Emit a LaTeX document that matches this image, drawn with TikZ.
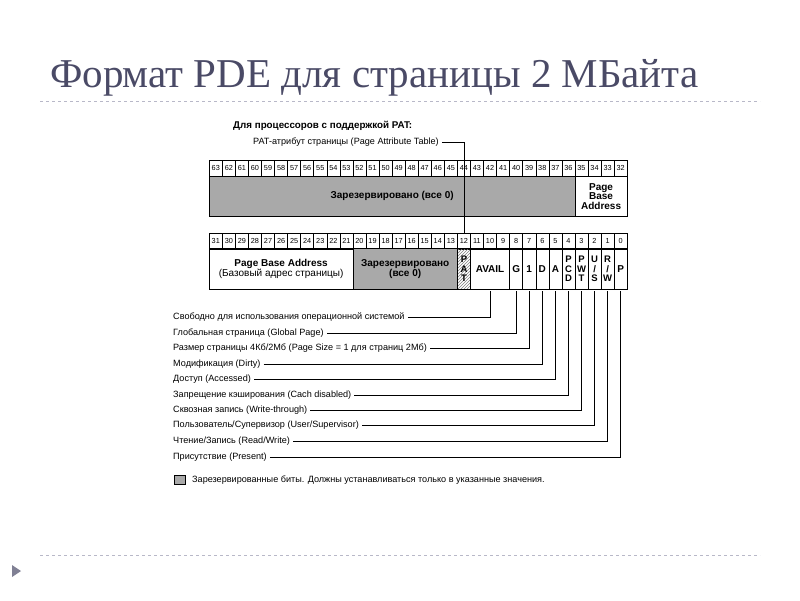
\documentclass[tikz,border=0pt]{standalone}
\usepackage{fontspec}
\setmainfont{Liberation Sans}
\newfontfamily\titlefont{Liberation Serif}
\usetikzlibrary{patterns}
\definecolor{titlec}{HTML}{4A4A66}
\definecolor{resgray}{HTML}{A9A9A9}
\definecolor{rulec}{HTML}{B8B8C8}
\begin{document}
\begin{tikzpicture}[x=1pt,y=-1pt,
  numcell/.style={draw,line width=0.5pt,minimum width=13.06pt,minimum height=16pt,inner sep=0pt,anchor=north west,font=\fontsize{7.3}{7.3}\selectfont},
  fld/.style={draw,line width=0.6pt,minimum height=41pt,inner sep=0pt,anchor=north west,align=center,font=\fontsize{10}{9.5}\selectfont\bfseries},
  stk/.style={font=\fontsize{9.5}{9.6}\selectfont\bfseries},
  lab/.style={anchor=west,inner sep=0pt,font=\fontsize{9.1}{9}\selectfont},
  lead/.style={line width=0.6pt}]
\useasboundingbox (0,0) rectangle (800,600);
\def\W{13.06}
% title
\node[anchor=base west,inner sep=0pt,text=titlec,font=\titlefont\fontsize{41}{41}\selectfont] (title) at (50,87) {Формат PDE для страницы 2 МБайта};
\draw[rulec,dashed,line width=0.6pt] (40,101) -- (760,101);
\draw[rulec,dashed,line width=0.6pt] (40,555) -- (760,555);
\fill[titlec!70] (12,565) -- (21,571) -- (12,577) -- cycle;
% header
\node[lab,font=\fontsize{9.8}{9}\selectfont\bfseries] (hdr) at (233,126) {Для процессоров с поддержкой PAT:};
\node[lab] (patlab) at (253,142) {PAT-атрибут страницы (Page Attribute Table)};
% register numbers
\foreach \b in {0,...,31}{
  \pgfmathtruncatemacro\n{63-\b}
  \node[numcell] (t\n) at ({209+\b*\W},160) {\n};
  \pgfmathtruncatemacro\m{31-\b}
  \node[numcell] (b\m) at ({209+\b*\W},233) {\m};
}
\node[fld,fill=resgray,minimum width={28*\W pt},minimum height=40pt] (tres) at (209,176) {Зарезервировано (все 0)};
\node[fld,minimum width={4*\W pt},minimum height=40pt] (tpba) at ({209+28*\W},176) {Page\\Base\\Address};
% bottom register fields
\node[fld,minimum width={11*\W pt}] (pba) at (209,248) {Page Base Address\\\mdseries(Базовый адрес страницы)};
\node[fld,fill=resgray,minimum width={8*\W pt}] (bres) at ({209+11*\W},248) {Зарезервировано\\(все 0)};
\node[fld,pattern=north east lines,pattern color=gray,minimum width={\W pt}] (pat) at ({209+19*\W},248) {};
\node[fld,stk,minimum width={\W pt},draw=none] (patt) at ({209+19*\W},248) {P\\A\\T};
\node[fld,minimum width={3*\W pt}] (avail) at ({209+20*\W},248) {AVAIL};
\node[fld,minimum width={\W pt}] (g) at ({209+23*\W},248) {G};
\node[fld,minimum width={\W pt}] (ps) at ({209+24*\W},248) {1};
\node[fld,minimum width={\W pt}] (d) at ({209+25*\W},248) {D};
\node[fld,minimum width={\W pt}] (a) at ({209+26*\W},248) {A};
\node[fld,stk,minimum width={\W pt}] (pcd) at ({209+27*\W},248) {P\\C\\D};
\node[fld,stk,minimum width={\W pt}] (pwt) at ({209+28*\W},248) {P\\W\\T};
\node[fld,stk,minimum width={\W pt}] (us) at ({209+29*\W},248) {U\\/\\S};
\node[fld,stk,minimum width={\W pt}] (rw) at ({209+30*\W},248) {R\\/\\W};
\node[fld,minimum width={\W pt}] (p) at ({209+31*\W},248) {P};
% PAT leader
\draw[lead] ([xshift=3pt]patlab.east) -| (b12.north);
% labels and leaders
\foreach \t/\f/\y in {
 {Свободно для использования операционной системой}/avail/317,
 {Глобальная страница (Global Page)}/g/333,
 {Размер страницы 4Кб/2Мб (Page Size = 1 для страниц 2Мб)}/ps/348,
 {Модификация (Dirty)}/d/364,
 {Доступ (Accessed)}/a/379,
 {Запрещение кэширования (Cach disabled)}/pcd/395,
 {Сквозная запись (Write-through)}/pwt/410,
 {Пользователь/Супервизор (User/Supervisor)}/us/425,
 {Чтение/Запись (Read/Write)}/rw/441,
 {Присутствие (Present)}/p/457}{
  \node[lab] (L\f) at (173,\y) {\t};
  \draw[lead] ([xshift=3pt]L\f.east) -| ([yshift=-1pt]\f.south);
}
% legend
\node[draw,fill=resgray,minimum width=11pt,minimum height=9pt,inner sep=0pt,anchor=west] (leg) at (174,480) {};
\node[lab] (legt) at (192,480) {Зарезервированные биты. Должны устанавливаться только в указанные значения.};
\end{tikzpicture}
\end{document}
